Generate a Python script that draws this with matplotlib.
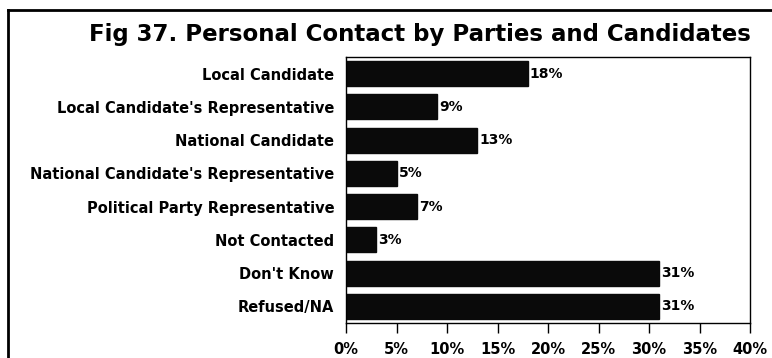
import matplotlib
matplotlib.use("Agg")
import matplotlib.pyplot as plt
from matplotlib.lines import Line2D

plt.rcParams['font.family'] = ['DejaVu Sans']

# survey responses, top to bottom
categories = ["Local Candidate", "Local Candidate's Representative",
              "National Candidate", "National Candidate's Representative",
              "Political Party Representative", "Not Contacted",
              "Don't Know", "Refused/NA"]
percent = [18, 9, 13, 5, 7, 3, 31, 31]
xticks = [0, 5, 10, 15, 20, 25, 30, 35, 40]

W, H = 772, 358
fig = plt.figure(figsize=(W / 100, H / 100), dpi=100)
ax = fig.add_axes([346 / W, 1 - 323 / H, (750 - 346) / W, (323 - 57) / H])

ypos = list(range(len(categories)))
ax.barh(ypos, percent, height=0.75, color='#0a0a0a', edgecolor='#0a0a0a')
for y, v in zip(ypos, percent):
    ax.text(v + 0.2, y, f"{v}%", va='center', ha='left',
            fontsize=10, fontweight='bold')

ax.set_ylim(len(categories) - 0.5, -0.5)
ax.set_xlim(0, 40)
ax.set_yticks(ypos)
ax.set_yticklabels(categories, fontsize=10.5, fontweight='bold')
ax.tick_params(axis='y', length=0, pad=8.5)
ax.set_xticks(xticks)
ax.set_xticklabels([f"{t}%" for t in xticks], fontsize=10.5, fontweight='bold')
ax.tick_params(axis='x', direction='out', length=7, width=1, pad=7)
for s in ax.spines.values():
    s.set_linewidth(1)

fig.text(420 / W, 1 - 35 / H, "Fig 37. Personal Contact by Parties and Candidates",
         ha='center', va='center', fontsize=16.5, fontweight='bold')

# outer frame, only top and left edges fall inside the image
fig.add_artist(Line2D([8 / W, 1], [1 - 10 / H, 1 - 10 / H], color='black', lw=2))
fig.add_artist(Line2D([8 / W, 8 / W], [1 - 10 / H, 0], color='black', lw=2))

fig.savefig("out.png", dpi=100)
